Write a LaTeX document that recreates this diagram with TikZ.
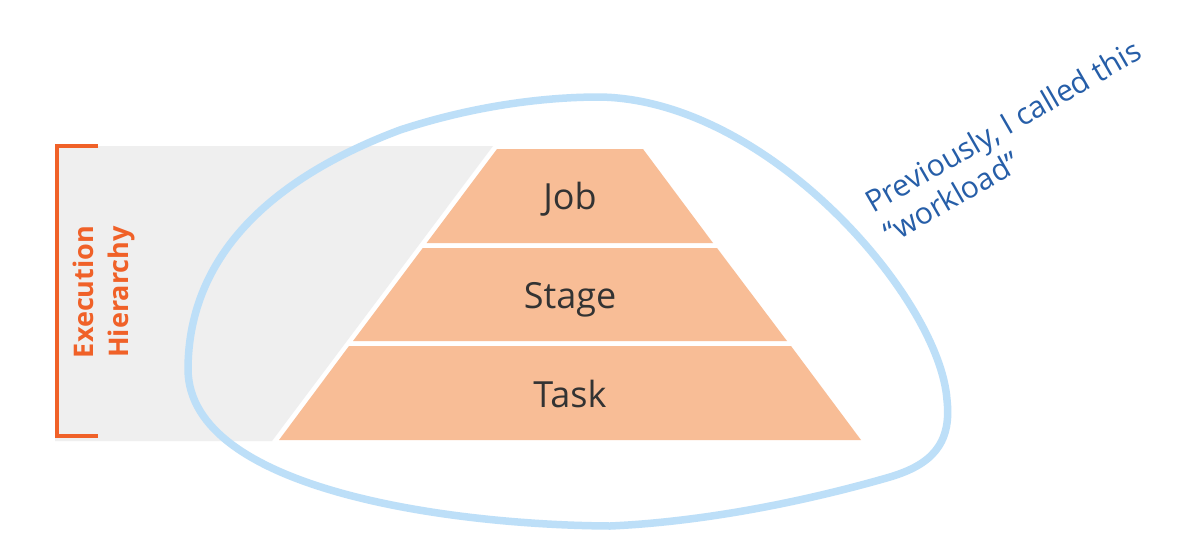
\documentclass[tikz,border=0pt]{standalone}
\usepackage{fontspec}
\setmainfont{Open Sans}
\definecolor{hgray}{RGB}{239,239,239}
\definecolor{pyr}{RGB}{248,189,150}
\definecolor{loopblue}{RGB}{189,223,248}
\definecolor{hier}{RGB}{240,97,40}
\definecolor{note}{RGB}{38,94,168}
\definecolor{lbl}{RGB}{51,51,51}
\begin{document}
\begin{tikzpicture}[x=1pt,y=-1pt,
  layerlbl/.style={text=lbl,font=\fontsize{36}{43}\selectfont,inner sep=0pt,anchor=base},
  notetxt/.style={text=note,font=\fontsize{30}{36}\selectfont,inner sep=0pt,rotate=30,anchor=base west},
  hiertxt/.style={text=hier,font=\bfseries\fontsize{27}{35}\selectfont,inner sep=0pt,rotate=90,align=center}]
\fill[white] (0,0) rectangle (1198,541);
\useasboundingbox (0,0) rectangle (1198,541);
% gray band
\fill[hgray] (55,146) -- (493,146) -- (272,441) -- (55,441) -- cycle;
% blue loop
\draw[loopblue,line width=7.5pt]
  (600,97) .. controls (770,100) and (940,300) .. (947,400)
  .. controls (952,445) and (930,465) .. (890,477)
  .. controls (800,503) and (700,522) .. (610,526)
  .. controls (450,525) and (190,490) .. (188,370)
  .. controls (188,250) and (280,175) .. (400,130)
  .. controls (470,107) and (540,97) .. cycle;
% pyramid layers
\fill[pyr] (497,149) -- (643,149) -- (713,243) -- (426.6,243) -- cycle;
\fill[pyr] (422.8,248) -- (717,248) -- (787,341) -- (353,341) -- cycle;
\fill[pyr] (349,346) -- (791,346) -- (861,440) -- (279,440) -- cycle;
\node[layerlbl] (job) at (570,209) {Job};
\node[layerlbl] (stage) at (570,308) {Stage};
\node[layerlbl] (task) at (570,407) {Task};
% bracket
\draw[hier,line width=4pt] (98,146) -- (57,146) -- (57,436) -- (98,436);
\node[hiertxt] (hiertext) at (104,292) {Execution\\Hierarchy};
% note
\node[notetxt] (note1) at (873,214) {Previously, I called this};
\node[notetxt] (note2) at (891,245) {“workload”};
\end{tikzpicture}
\end{document}
